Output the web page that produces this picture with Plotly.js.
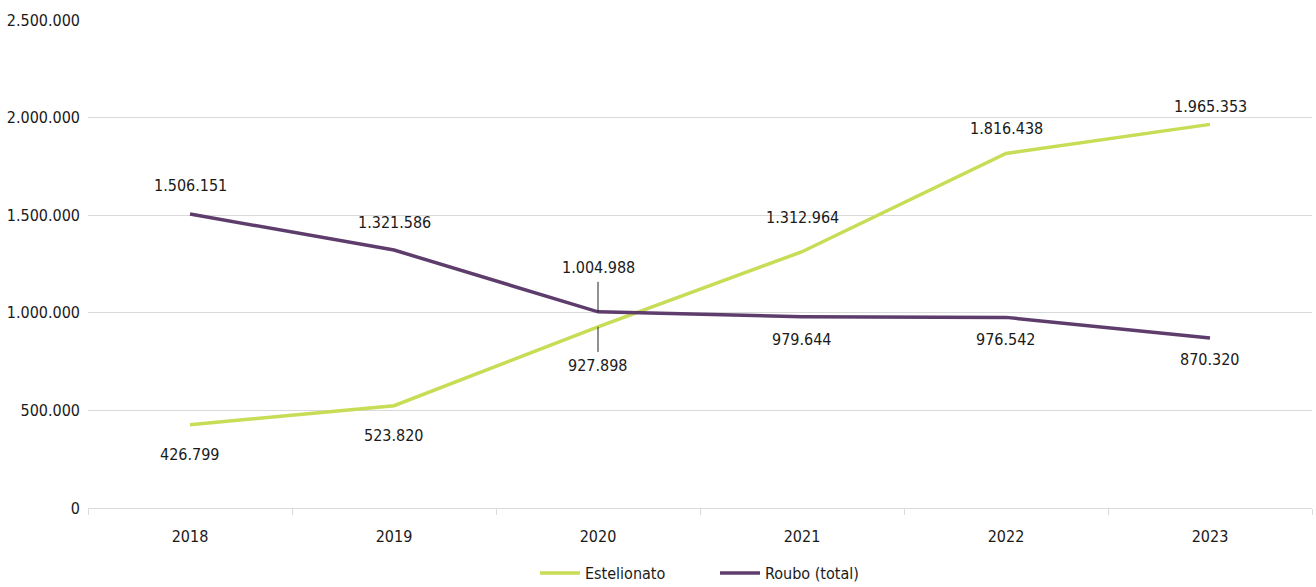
<!DOCTYPE html>
<html><head><meta charset="utf-8">
<script src="https://cdn.plot.ly/plotly-3.0.1.min.js"></script>
<style>html,body{margin:0;padding:0;background:#fff;}#chart{width:1316px;height:587px;}</style>
</head><body><div id="chart"></div>
<script>
const years = ['2018','2019','2020','2021','2022','2023'];
const estelionato = [426799, 523820, 927898, 1312964, 1816438, 1965353];
const roubo = [1506151, 1321586, 1004988, 979644, 976542, 870320];
const estelionatoLabels = ['426.799','523.820','927.898','1.312.964','1.816.438','1.965.353'];
const rouboLabels = ['1.506.151','1.321.586','1.004.988','979.644','976.542','870.320'];

const FONT = '"DejaVu Sans Condensed", "Liberation Sans Narrow", sans-serif';
const green = '#c8dc56';
const purple = '#5e3d6d';

// label offsets (px) — layout only
const estShift = [-30, -30, null, 34, 25, 18];
const roShift = [29, 28, null, -23, -22, -21];

const annotations = [];
const lblFont = {family:FONT,size:16,color:'#1a1a1a'};
years.forEach((y, i) => {
  if (i === 2) {
    annotations.push({x: i, y: roubo[i], xref:'x', yref:'y', text: rouboLabels[i],
      showarrow: true, arrowhead: 0, arrowwidth: 1, arrowcolor: '#222', ax: 0, ay: -44, standoff: 0,
      borderpad: 4, font: lblFont});
    annotations.push({x: i, y: estelionato[i], xref:'x', yref:'y', text: estelionatoLabels[i],
      showarrow: true, arrowhead: 0, arrowwidth: 1, arrowcolor: '#222', ax: 0, ay: 39, standoff: 0,
      borderpad: 4, font: lblFont});
  } else {
    annotations.push({x: i, y: roubo[i], xref:'x', yref:'y', text: rouboLabels[i], showarrow:false,
      yshift: roShift[i], font: lblFont});
    annotations.push({x: i, y: estelionato[i], xref:'x', yref:'y', text: estelionatoLabels[i], showarrow:false,
      yshift: estShift[i], font: lblFont});
  }
});

const traces = [
  {x: years, y: estelionato, name: 'Estelionato', type:'scatter', mode:'lines',
   line:{color: green, width: 3.5}},
  {x: years, y: roubo, name: 'Roubo (total)', type:'scatter', mode:'lines',
   line:{color: purple, width: 3.5}}
];

const layout = {
  width: 1316, height: 587,
  margin: {l: 88, r: 4, t: 20, b: 79},
  paper_bgcolor: '#fff', plot_bgcolor: '#fff',
  separators: ',.',
  font: {family: FONT, size: 16, color: '#1a1a1a'},
  showlegend: true,
  legend: {orientation: 'h', xref: 'container', yref: 'container', x: 535/1316, xanchor: 'left',
    y: 14/587, yanchor: 'middle', entrywidth: 125, entrywidthmode: 'pixels',
    font: {family: FONT, size: 16, color: '#1a1a1a'}, itemwidth: 40, tracegroupgap: 0},
  xaxis: {type: 'category', range: [-0.5, 5.5], autorange: false, tickson: 'boundaries', ticks: 'outside', ticklen: 6,
    tickcolor: '#d9d9d9', showline: true, linecolor: '#d9d9d9', linewidth: 1, tickangle: 0,
    ticklabelstandoff: 14,
    showgrid: false, tickfont: {family: FONT, size: 16}, fixedrange: true},
  yaxis: {range: [0, 2500000], autorange: false, dtick: 500000, tickformat: ',d', showgrid: true,
    gridcolor: '#d9d9d9', zeroline: false, showline: false, ticks: '', ticklabelstandoff: 7,
    tickfont: {family: FONT, size: 16}, fixedrange: true},
  annotations: annotations
};

Plotly.newPlot('chart', traces, layout, {displayModeBar: false, staticPlot: true});
</script></body></html>
